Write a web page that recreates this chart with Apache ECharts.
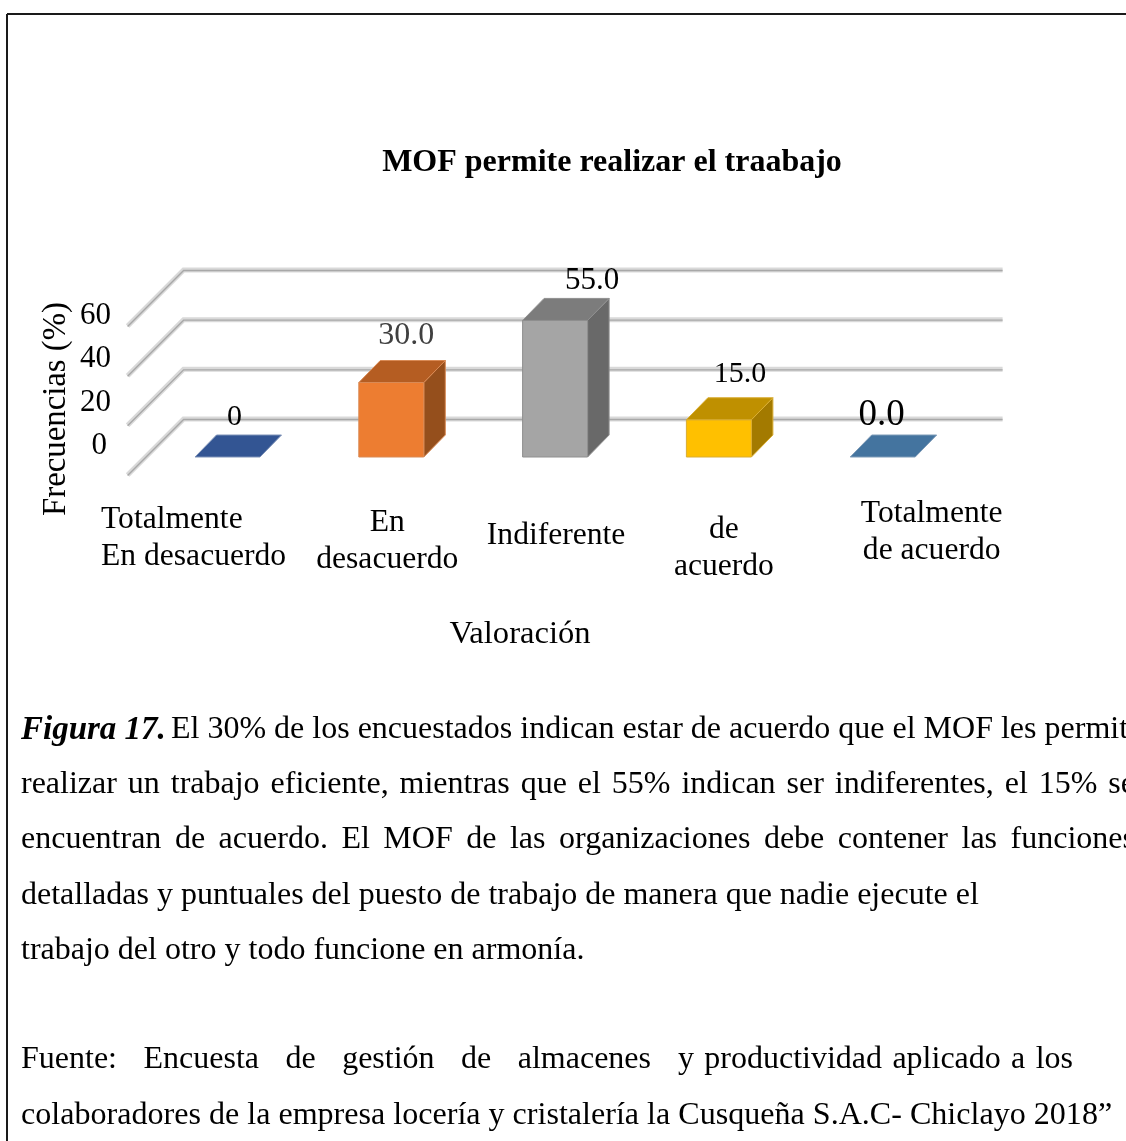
<!DOCTYPE html>
<html><head><meta charset="utf-8">
<style>html,body{margin:0;padding:0;background:#fff}#c{width:1126px;height:1141px}</style>
<script src="https://cdn.jsdelivr.net/npm/echarts@6/dist/echarts.min.js"></script>
</head><body><div id="c"></div>
<script>
const chartTitle = 'MOF permite realizar el traabajo';
const categories = ['Totalmente\nEn desacuerdo','En\ndesacuerdo','Indiferente','de\nacuerdo','Totalmente\nde acuerdo'];
const values = [0,30,55,15,0];
const valueLabels = ['0','30.0','55.0','15.0','0.0'];
const yTicks = [0,20,40,60];
const yAxisTitle = 'Frecuencias (%)';
const xAxisTitle = 'Valoración';
const frontColors = ['#335593','#ED7D31','#A5A5A5','#FFC000','#44749F'];
const topColors   = ['#335593','#B55D22','#7C7C7C','#BF9000','#44749F'];
const sideColors  = ['#335593','#954F1C','#696969','#A37A00','#44749F'];
const edgeColors  = ['#7f93b8','#d98a55','#8f8f8f','#d9ad33','#7f9cb8'];
const labelColors = ['#000','#404040','#000','#000','#000'];
const labelSizes  = [30,32,31,30,37];
const labelNudge  = [[7,-40],[15,-47],[37,-40],[21,-46],[-1,-42]];
const catNudge    = [[-126.5,44],[-4,47],[1,60],[5,54],[49,38]];
const catAligns   = ['left','center','center','center','center'];
const SERIF = '"Liberation Serif","Times New Roman",serif';
const para = [
  {y:730, x:21, bold:true, text:'Figura 17.'},
  {y:730, x:171, text:'El 30% de los encuestados indican estar de acuerdo que el MOF les permite'},
  {y:785, x:21, end:1135, text:'realizar un trabajo eficiente, mientras que el 55% indican ser indiferentes, el 15% se'},
  {y:840, x:21, end:1135, text:'encuentran de acuerdo. El MOF de las organizaciones debe contener las funciones'},
  {y:896, x:21, text:'detalladas y puntuales del puesto de trabajo de manera que nadie ejecute el'},
  {y:951, x:21, text:'trabajo del otro y todo funcione en armonía.'},
  {y:1060, x:21, end:651, text:'Fuente: Encuesta de gestión de almacenes'},
  {y:1060, x:678, end:1073, text:'y productividad aplicado a los'},
  {y:1116, x:21, size:32.1, text:'colaboradores de la empresa locería y cristalería la Cusqueña S.A.C- Chiclayo 2018”'}
];
const BODY = 32, DX = 21.5, DY = 22, BACK = 38, FRONT = 18;

const mctx = document.createElement('canvas').getContext('2d');
mctx.font = BODY + 'px ' + SERIF;
function textEl(t, x, y, extra){
  return {type:'text', x, y, silent:true, style:Object.assign({text:t, fontFamily:SERIF, fontSize:BODY, fill:'#000', verticalAlign:'middle'}, extra||{})};
}
const graphics = [
  {type:'line', shape:{x1:7,y1:14,x2:1126,y2:14}, style:{stroke:'#1a1a1a',lineWidth:2}, silent:true},
  {type:'line', shape:{x1:7,y1:14,x2:7,y2:1141}, style:{stroke:'#1a1a1a',lineWidth:2}, silent:true},
  Object.assign(textEl(yAxisTitle, 56, 409, {fontSize:32.8, align:'center'}), {rotation:Math.PI/2}),
  textEl(xAxisTitle, 520, 634, {fontSize:32.6, align:'center'})
];
para.forEach(l=>{
  if(l.end){
    const words = l.text.split(' ');
    const total = words.reduce((s,w)=>s+mctx.measureText(w).width,0);
    const gap = (l.end-l.x-total)/(words.length-1);
    let x = l.x;
    words.forEach(w=>{graphics.push(textEl(w,x,l.y)); x+=mctx.measureText(w).width+gap;});
  } else if(l.bold){
    graphics.push(textEl(l.text,l.x,l.y,{fontWeight:'bold',fontStyle:'italic',fontSize:33}));
  } else graphics.push(textEl(l.text,l.x,l.y,l.size?{fontSize:l.size}:{}));
});

function gridItem(params, api){
  const cs = params.coordSys;
  const y = api.coord([0, api.value(1)])[1];
  const x0 = cs.x - FRONT, xb = cs.x + BACK, xe = cs.x + cs.width + BACK;
  const yf = y + FRONT, yb = y - BACK;
  const pts = [[x0,yf],[xb,yb],[xe,yb]];
  return {type:'group', children:[
    {type:'polyline', shape:{points:pts}, style:{fill:null, stroke:'#d9d9d9', lineWidth:5}, silent:true},
    {type:'polyline', shape:{points:pts.map(p=>[p[0],p[1]+0.5])}, style:{fill:null, stroke:'#a8a8a8', lineWidth:1.4}, silent:true}
  ]};
}
function barItem(params, api){
  const i = params.dataIndex;
  const hw = 32.5;
  const p0 = api.coord([i,0]), p1 = api.coord([i,api.value(1)]);
  const l = p0[0]-hw, r = p0[0]+hw, b = p0[1], t = p1[1];
  const edge = {stroke:edgeColors[i], lineWidth:1};
  const kids = [];
  if(t<b){
    kids.push({type:'polygon', shape:{points:[[r,b],[r+DX,b-DY],[r+DX,t-DY],[r,t]]}, style:Object.assign({fill:sideColors[i]},edge)});
    kids.push({type:'rect', shape:{x:l,y:t,width:r-l,height:b-t}, style:Object.assign({fill:frontColors[i]},edge)});
  }
  kids.push({type:'polygon', shape:{points:[[l,t],[l+DX,t-DY],[r+DX,t-DY],[r,t]]}, style:Object.assign({fill:topColors[i]},edge)});
  return {type:'group', children:kids};
}
function valueLabelItem(params, api){
  const i = params.dataIndex;
  const p = api.coord([i, api.value(1)]);
  return {type:'text', x:p[0]+labelNudge[i][0], y:p[1]+labelNudge[i][1], style:{text:valueLabels[i], fontFamily:SERIF, fontSize:labelSizes[i], fill:labelColors[i], align:'center', verticalAlign:'middle'}, silent:true};
}
function catLabelItem(params, api){
  const i = params.dataIndex;
  const p = api.coord([i,0]);
  return {type:'text', x:p[0]+catNudge[i][0], y:p[1]+catNudge[i][1], style:{text:categories[i], fontFamily:SERIF, fontSize:31.6, lineHeight:37, fill:'#000', align:catAligns[i], verticalAlign:'top'}, silent:true};
}
const barData = values.map((v,i)=>[i,v]);
const chart = echarts.init(document.getElementById('c'), null, {renderer:'canvas'});
chart.setOption({
  animation:false, backgroundColor:'#fff',
  title:{text:chartTitle, left:607, top:142, textAlign:'center', textStyle:{fontFamily:SERIF, fontSize:32, fontWeight:'bold', color:'#000'}},
  grid:[
    {left:145.6, width:819, top:308, height:149},
    {left:119, width:800, top:316, height:130}
  ],
  xAxis:[
    {type:'category', data:categories, gridIndex:0, show:false},
    {type:'category', data:categories, gridIndex:1, show:false}
  ],
  yAxis:[
    {type:'value', min:0, max:60, interval:20, gridIndex:0, show:false},
    {type:'value', min:0, max:60, interval:20, gridIndex:1, axisLine:{show:false}, axisTick:{show:false}, splitLine:{show:false},
     axisLabel:{margin:8, fontFamily:SERIF, fontSize:31, color:'#000', formatter:v=>v===0?'{z|0}':String(v), rich:{z:{fontFamily:SERIF,fontSize:31,color:'#000',padding:[0,4,0,0]}}}}
  ],
  series:[
    {type:'custom', xAxisIndex:0, yAxisIndex:0, z:1, silent:true, clip:false, data:yTicks.map(v=>[0,v]), renderItem:gridItem},
    {type:'custom', xAxisIndex:0, yAxisIndex:0, z:2, silent:true, clip:false, data:barData, renderItem:barItem},
    {type:'custom', xAxisIndex:0, yAxisIndex:0, z:3, silent:true, clip:false, data:barData, renderItem:valueLabelItem},
    {type:'custom', xAxisIndex:0, yAxisIndex:0, z:3, silent:true, clip:false, data:barData, renderItem:catLabelItem}
  ],
  graphic:graphics
});
</script></body></html>
